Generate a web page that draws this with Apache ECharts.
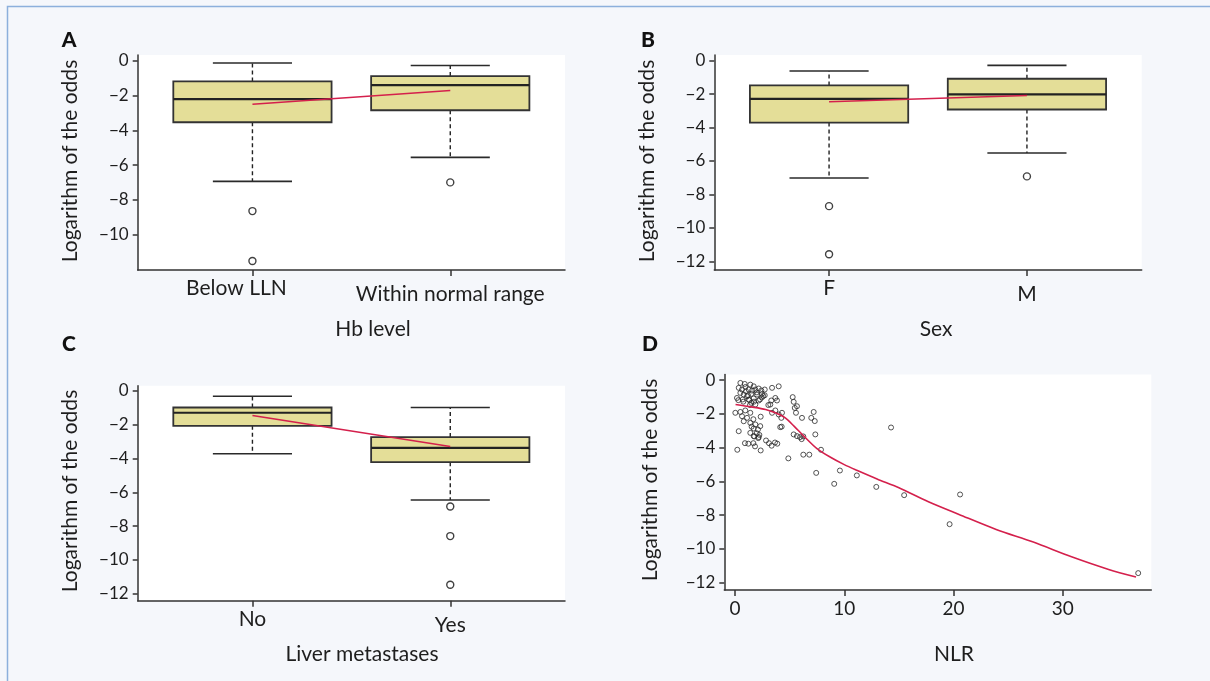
<!DOCTYPE html>
<html>
<head>
<meta charset="utf-8">
<script src="https://cdn.jsdelivr.net/npm/echarts@6/dist/echarts.min.js"></script>
<style>
html, body { margin: 0; padding: 0; background: #f5f7fb; }
#chart { width: 1210px; height: 681px; }
</style>
</head>
<body>
<div id="chart"></div>
<script>
// ---- data ----
// box = [lower whisker, Q1, median, Q3, upper whisker]
var hbGroups = ['Below LLN', 'Within normal range'];
var hbBox = [[-6.94, -3.54, -2.21, -1.19, -0.13], [-5.56, -2.85, -1.40, -0.88, -0.27]];
var hbOutliers = [[-8.65, -11.52], [-7.0]];
var hbMean = [-2.50, -1.71];

var sexGroups = ['F', 'M'];
var sexBox = [[-7.02, -3.70, -2.28, -1.48, -0.62], [-5.52, -2.92, -2.02, -1.08, -0.28]];
var sexOutliers = [[-8.70, -11.58], [-6.92]];
var sexMean = [-2.46, -2.08];

var liverGroups = ['No', 'Yes'];
var liverBox = [[-3.72, -2.07, -1.30, -0.99, -0.32], [-6.46, -4.22, -3.37, -2.74, -0.99]];
var liverOutliers = [[], [-6.84, -8.59, -11.47]];
var liverMean = [-1.46, -3.29];

var nlrX = [0.49, 0.89, 1.40, 1.71, 0.34, 0.64, 1.00, 1.25, 1.56, 1.86, 2.17, 2.41, 2.72, 3.39, 4.00,
  0.49, 0.80, 1.19, 1.49, 2.01, 2.47, 2.72, 0.18, 0.70, 1.25, 1.71, 2.17, 1.49, 1.86, 3.69, 3.84, 3.32,
  3.23, 5.28, 5.37, 5.67, 2.59, 0.30, 0.76, 1.31, 1.74, 2.29, 1.37, 3.05, 0.95, 2.00, 1.10, 2.45,
  0.03, 0.49, 0.94, 1.40, 0.64, 1.10, 0.80, 1.40, 1.86, 1.71, 2.10, 2.31, 0.34, 1.40, 1.71, 2.17,
  3.39, 3.69, 4.00, 4.30, 4.24, 5.58, 6.13, 6.98, 7.20, 7.35, 5.37, 5.67, 4.14, 1.68, 2.35, 1.52,
  1.98, 2.23, 1.77, 4.27, 5.47, 7.30, 6.25, 5.95,
  6.10, 2.13, 2.84, 3.11, 3.35, 3.66, 3.87, 0.91, 1.22, 1.68, 1.83, 2.35, 0.21, 7.87, 4.88, 6.25, 6.80,
  7.43, 9.08, 9.60, 11.15, 12.93, 14.28, 15.48, 19.64, 20.60, 36.90];
var nlrY = [-0.16, -0.22, -0.26, -0.36, -0.45, -0.55, -0.65, -0.55, -0.61, -0.55, -0.49, -0.61, -0.55, -0.45, -0.36,
  -0.75, -0.85, -0.89, -0.81, -0.85, -0.81, -0.89, -1.05, -1.14, -1.14, -1.08, -1.20, -1.34, -1.44, -1.05, -1.20, -1.20,
  -1.44, -1.00, -1.28, -1.54, -0.94, -1.18, -1.27, -1.18, -1.27, -1.14, -1.47, -1.47, -0.40, -0.72, -0.95, -1.02,
  -1.93, -1.88, -1.79, -1.93, -2.13, -2.23, -2.43, -2.53, -2.62, -2.86, -2.92, -2.72, -3.02, -3.12, -3.31, -3.37,
  -1.93, -1.79, -2.03, -1.93, -2.23, -1.93, -2.23, -2.23, -1.88, -3.21, -3.21, -3.31, -2.78, -2.31, -2.16, -2.75,
  -3.14, -3.24, -3.33, -2.75, -1.64, -2.42, -3.33, -3.37,
  -3.49, -3.43, -3.57, -3.73, -3.88, -3.69, -3.76, -3.73, -3.76, -3.73, -3.92, -4.16, -4.12, -4.12, -4.63, -4.41, -4.41,
  -5.49, -6.14, -5.35, -5.64, -6.32, -2.80, -6.81, -8.53, -6.77, -11.43];

// smoothed fit (red curve)
var fitX = [0.05, 1.5, 2.8, 3.7, 4.6, 5.4, 6.3, 7.5, 8.7, 10, 11.2, 13, 15, 17.7, 20.5, 23.9, 27.3, 30.8, 34.2, 36.7];
var fitY = [-1.44, -1.58, -1.73, -1.93, -2.23, -2.72, -3.31, -4.05, -4.55, -5.0, -5.35, -5.85, -6.37, -7.2, -7.95, -8.84, -9.59, -10.46, -11.21, -11.66];

var yTicksA = [0, -2, -4, -6, -8, -10];
var yTicks = [0, -2, -4, -6, -8, -10, -12];
var nlrTicks = [0, 10, 20, 30];

// ---- styles ----
var FONT = 'Lato';
var INK = '#1e1e1e';
var AXIS = '#333333';
var RED = '#d4204c';
var BOXFILL = '#e4de98';

function minus(v) {
  return v < 0 ? '\u2212' + Math.abs(v) : String(v);
}

function yAxisFor(idx, min, max, ticks) {
  return {
    type: 'value', gridIndex: idx, min: min, max: max,
    axisLine: { show: true, onZero: false, lineStyle: { color: AXIS, width: 1.5 } },
    axisTick: { show: true, length: 5, customValues: ticks, lineStyle: { color: AXIS, width: 1.5 } },
    axisLabel: { customValues: ticks, formatter: minus, margin: 9, fontFamily: FONT, fontSize: 17, color: INK },
    splitLine: { show: false }
  };
}

function groupAxisFor(idx, cats, shiftFirst) {
  return {
    type: 'value', gridIndex: idx, min: 0.42, max: 2.58,
    axisLine: { show: true, onZero: false, lineStyle: { color: AXIS, width: 1.5 } },
    axisTick: { show: true, length: 6, customValues: [1, 2], lineStyle: { color: AXIS, width: 1.5 } },
    axisLabel: {
      customValues: [1, 2], margin: 8, fontFamily: FONT, fontSize: 21, color: INK,
      formatter: function (v) {
        return v === 1 ? '{a|' + cats[0] + '}' : '{b|' + cats[1] + '}';
      },
      rich: {
        a: { fontFamily: FONT, fontSize: 21, color: INK, padding: [0, shiftFirst || 0, 0, 0] },
        b: { fontFamily: FONT, fontSize: 21, color: INK, padding: [6, 0, 0, 0] }
      }
    },
    splitLine: { show: false }
  };
}

function renderBox(params, api) {
  var x = api.value(0);
  var lo = api.coord([x, api.value(1)]);
  var q1 = api.coord([x, api.value(2)]);
  var md = api.coord([x, api.value(3)]);
  var q3 = api.coord([x, api.value(4)]);
  var hi = api.coord([x, api.value(5)]);
  var bw = api.size([0.8, 0])[0];
  var cw = bw / 2;
  var cx = q1[0];
  var solid = { stroke: '#2a2a2a', lineWidth: 1.6 };
  var dash = { stroke: '#222', lineWidth: 1.4, lineDash: [4, 3] };
  return {
    type: 'group',
    children: [
      { type: 'line', shape: { x1: cx, y1: q3[1], x2: cx, y2: hi[1] }, style: dash },
      { type: 'line', shape: { x1: cx, y1: q1[1], x2: cx, y2: lo[1] }, style: dash },
      { type: 'line', shape: { x1: cx - cw / 2, y1: hi[1], x2: cx + cw / 2, y2: hi[1] }, style: solid },
      { type: 'line', shape: { x1: cx - cw / 2, y1: lo[1], x2: cx + cw / 2, y2: lo[1] }, style: solid },
      { type: 'rect', shape: { x: cx - bw / 2, y: q3[1], width: bw, height: q1[1] - q3[1] },
        style: { fill: BOXFILL, stroke: '#333', lineWidth: 1.8 } },
      { type: 'line', shape: { x1: cx - bw / 2, y1: md[1], x2: cx + bw / 2, y2: md[1] },
        style: { stroke: '#222', lineWidth: 2.2 } }
    ]
  };
}

function boxPanel(idx, boxes, outliers, means) {
  var outData = [];
  outliers.forEach(function (list, i) {
    list.forEach(function (v) { outData.push([i + 1, v]); });
  });
  return [
    {
      type: 'custom', xAxisIndex: idx, yAxisIndex: idx, renderItem: renderBox, silent: true,
      encode: { x: 0, y: [1, 2, 3, 4, 5] },
      data: boxes.map(function (b, i) { return [i + 1].concat(b); })
    },
    {
      type: 'scatter', xAxisIndex: idx, yAxisIndex: idx, symbol: 'circle', symbolSize: 7, silent: true,
      itemStyle: { color: 'rgba(0,0,0,0)', borderColor: '#111', borderWidth: 1.4 },
      data: outData
    },
    {
      type: 'line', xAxisIndex: idx, yAxisIndex: idx, symbol: 'none', silent: true, z: 5,
      lineStyle: { color: RED, width: 1.5 },
      data: means.map(function (m, i) { return [i + 1, m]; })
    }
  ];
}

var scatterData = nlrX.map(function (x, i) { return [x, nlrY[i]]; });
var fitData = fitX.map(function (x, i) { return [x, fitY[i]]; });

var titleStyle = { fontFamily: FONT, fontSize: 21, fill: INK, align: 'center', verticalAlign: 'middle' };
function label(text, x, y, extra) {
  var st = Object.assign({}, titleStyle, { text: text }, extra || {});
  return { type: 'text', x: x, y: y, style: st, silent: true };
}
function yTitle(x, y) {
  return { type: 'text', x: x, y: y, rotation: Math.PI / 2, silent: true,
    style: Object.assign({}, titleStyle, { text: 'Logarithm of the odds' }) };
}
var letterStyle = { fontWeight: 900, fontSize: 21, fill: '#111' };

var option = {
  animation: false,
  backgroundColor: '#f5f7fb',
  grid: [
    { left: 137.7, top: 55, width: 427.3, height: 215, show: true, backgroundColor: '#fff', borderWidth: 0, outerBoundsMode: 'none' },
    { left: 714.3, top: 55, width: 427.4, height: 215, show: true, backgroundColor: '#fff', borderWidth: 0, outerBoundsMode: 'none' },
    { left: 137.7, top: 385.7, width: 427.3, height: 215, show: true, backgroundColor: '#fff', borderWidth: 0, outerBoundsMode: 'none' },
    { left: 724.3, top: 374.5, width: 427, height: 215.5, show: true, backgroundColor: '#fff', borderWidth: 0, outerBoundsMode: 'none' }
  ],
  xAxis: [
    groupAxisFor(0, hbGroups, 32),
    groupAxisFor(1, sexGroups, 0),
    groupAxisFor(2, liverGroups, 0),
    {
      type: 'value', gridIndex: 3, min: -0.98, max: 38.1,
      axisLine: { show: true, onZero: false, lineStyle: { color: AXIS, width: 1.5 } },
      axisTick: { show: true, length: 6, customValues: nlrTicks, lineStyle: { color: AXIS, width: 1.5 } },
      axisLabel: { customValues: nlrTicks, margin: 9, fontFamily: FONT, fontSize: 19, color: INK },
      splitLine: { show: false }
    }
  ],
  yAxis: [
    yAxisFor(0, -12.04, 0.33, yTicksA),
    yAxisFor(1, -12.52, 0.34, yTicks),
    yAxisFor(2, -12.41, 0.30, yTicks),
    yAxisFor(3, -12.43, 0.34, yTicks)
  ],
  series: [].concat(
    boxPanel(0, hbBox, hbOutliers, hbMean),
    boxPanel(1, sexBox, sexOutliers, sexMean),
    boxPanel(2, liverBox, liverOutliers, liverMean),
    [
      {
        type: 'scatter', xAxisIndex: 3, yAxisIndex: 3, symbol: 'circle', symbolSize: 5, silent: true,
        itemStyle: { color: 'rgba(0,0,0,0)', borderColor: '#2a2a2a', borderWidth: 1 },
        data: scatterData
      },
      {
        type: 'line', xAxisIndex: 3, yAxisIndex: 3, symbol: 'none', smooth: 0.3, silent: true, z: 5,
        lineStyle: { color: RED, width: 1.6 },
        data: fitData
      }
    ]
  ),
  graphic: [
    { type: 'rect', silent: true, shape: { x: 7.5, y: 6.5, width: 1230, height: 700 },
      style: { fill: 'none', stroke: '#8db0dc', lineWidth: 1.5 } },
    label('A', 69, 40, letterStyle),
    label('B', 648, 40, letterStyle),
    label('C', 69, 344, letterStyle),
    label('D', 650, 344, letterStyle),
    label('Hb level', 373, 329),
    label('Sex', 936, 329),
    label('Liver metastases', 362, 654),
    label('NLR', 954, 654),
    yTitle(70, 161),
    yTitle(647, 161),
    yTitle(70, 491),
    yTitle(650, 480)
  ]
};

var myChart = echarts.init(document.getElementById('chart'));
myChart.setOption(option);
</script>
</body>
</html>
